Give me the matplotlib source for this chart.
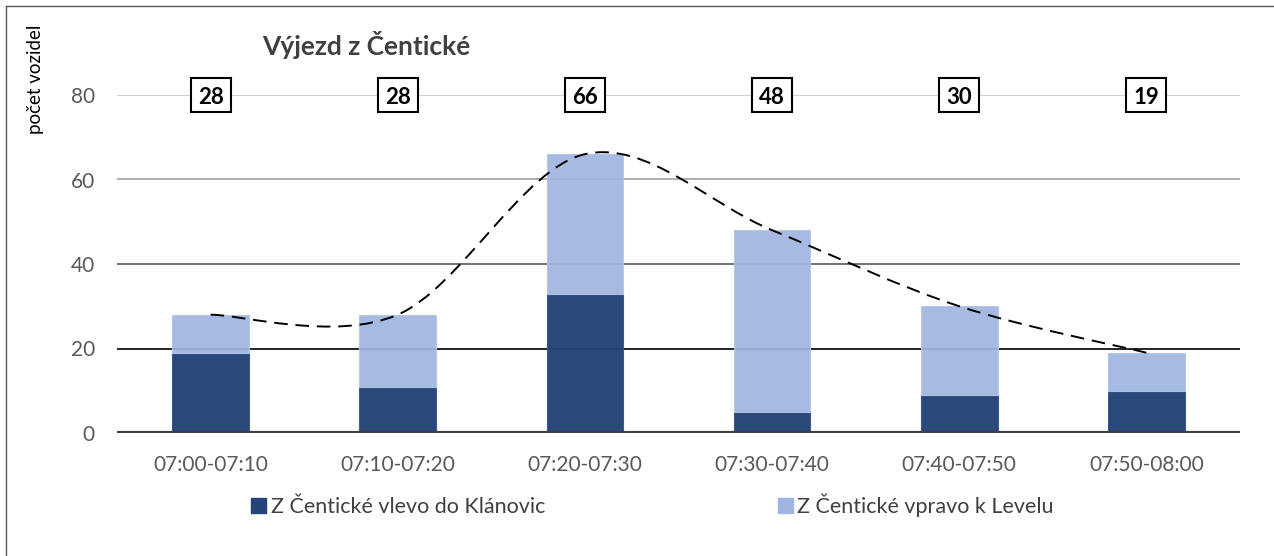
import matplotlib.pyplot as plt
import matplotlib.transforms as mtransforms
from matplotlib.path import Path
from matplotlib.patches import PathPatch, Patch, Rectangle
from matplotlib.lines import Line2D

categories = ["07:00-07:10", "07:10-07:20", "07:20-07:30",
              "07:30-07:40", "07:40-07:50", "07:50-08:00"]
left_turn = [19, 11, 33, 5, 9, 10]      # Z Čentické vlevo do Klánovic
right_turn = [9, 17, 33, 43, 21, 9]     # Z Čentické vpravo k Levelu
totals = [a + b for a, b in zip(left_turn, right_turn)]

DARK = "#264478"
LIGHT = "#a0b6e0"
FONT = "Lato"

plt.rcParams["font.family"] = [FONT, "DejaVu Sans"]


def smooth_path(xs, ys):
    # cubic bezier through points, like a smoothed line in a spreadsheet
    n = len(xs)
    verts = [(xs[0], ys[0])]
    codes = [Path.MOVETO]
    for i in range(n - 1):
        x0, y0 = xs[i], ys[i]
        x1, y1 = xs[i + 1], ys[i + 1]
        xp, yp = (xs[i - 1], ys[i - 1]) if i > 0 else (x0, y0)
        xn, yn = (xs[i + 2], ys[i + 2]) if i + 2 < n else (x1, y1)
        c1 = (x0 + (x1 - xp) / 6, y0 + (y1 - yp) / 6)
        c2 = (x1 - (xn - x0) / 6, y1 - (yn - y0) / 6)
        verts += [c1, c2, (x1, y1)]
        codes += [Path.CURVE4] * 3
    return Path(verts, codes)


fig = plt.figure(figsize=(12.74, 5.56), dpi=100)
ax = fig.add_axes([117 / 1274, 1 - 433 / 556, 1123 / 1274, 338 / 556])

x = list(range(len(categories)))

# gridlines, getting darker towards the bottom
grid_colors = {80: "#c8c8c8", 60: "#a0a0a0", 40: "#595959", 20: "#000000"}
for v, c in grid_colors.items():
    ax.axhline(v, color=c, lw=1.2, zorder=1)

ax.bar(x, left_turn, width=0.41, color=DARK, edgecolor="#3a5a94",
       lw=0.8, alpha=0.98, zorder=2, label="Z Čentické vlevo do Klánovic")
ax.bar(x, right_turn, width=0.41, bottom=left_turn, color=LIGHT,
       edgecolor="#b4c6ea", lw=0.8, alpha=0.92, zorder=2,
       label="Z Čentické vpravo k Levelu")
ax.axhline(0, color="#404040", lw=3, zorder=3)

curve = PathPatch(smooth_path(x, totals), fill=False, ec="black", lw=1.4,
                  ls=(0, (7, 4)), zorder=4)
ax.add_patch(curve)

# total labels in boxes on the 80 line (box size in inches)
for xi, t in zip(x, totals):
    tr = fig.dpi_scale_trans + mtransforms.ScaledTranslation(xi, 80, ax.transData)
    ax.add_patch(Rectangle((-0.2, -0.17), 0.4, 0.34, transform=tr,
                           fc="white", ec="black", lw=1.5, zorder=5,
                           clip_on=False))
    ax.text(xi, 80, str(t), ha="center", va="center_baseline", fontsize=16,
            fontweight="bold", color="black", zorder=6)

ax.set_xlim(-0.5, 5.5)
ax.set_ylim(0, 80)
ax.set_yticks([0, 20, 40, 60, 80])
ax.set_xticks(x)
ax.set_xticklabels(categories)
ax.tick_params(axis="both", length=0, labelsize=15, colors="#595959")
ax.tick_params(axis="y", pad=16)
ax.tick_params(axis="x", pad=16)
for s in ax.spines.values():
    s.set_visible(False)

fig.text(262 / 1274, 1 - 45 / 556, "Výjezd z Čentické", fontsize=19,
         fontweight="bold", color="#404040", ha="left", va="center")
fig.text(35 / 1274, 1 - 25 / 556, "počet vozidel", rotation=90,
         fontsize=13.5, color="black", ha="center", va="top")

handles = [Patch(fc=DARK, ec=DARK), Patch(fc=LIGHT, ec=LIGHT)]
fig.legend(handles, ["Z Čentické vlevo do Klánovic", "Z Čentické vpravo k Levelu"],
           loc="center left", bbox_to_anchor=(232 / 1274, 1 - 505 / 556),
           ncol=2, frameon=False, fontsize=15.5, handlelength=0.7,
           handleheight=0.7, handletextpad=0.2, columnspacing=10.8,
           labelcolor="#404040")

# frame remnants of the original chart border (left and top)
fig.add_artist(Line2D([6 / 1274, 6 / 1274], [0, 1 - 6 / 556],
                      color="#595959", lw=1))
fig.add_artist(Line2D([6 / 1274, 1], [1 - 6 / 556, 1 - 6 / 556],
                      color="#595959", lw=1))

fig.savefig("out.png", dpi=100)
